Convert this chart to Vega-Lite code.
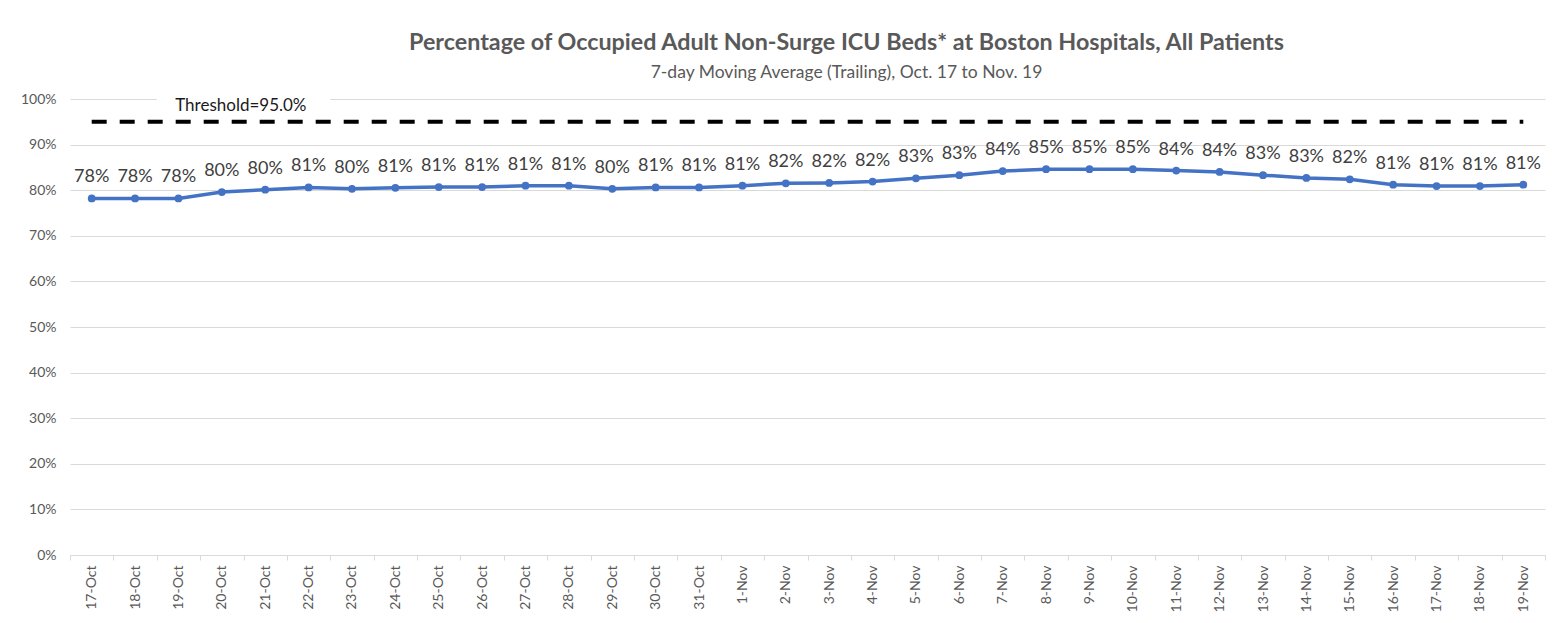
{
  "$schema": "https://vega.github.io/schema/vega-lite/v6.json",
  "width": 1475,
  "height": 456,
  "autosize": {"type": "none"},
  "padding": {"left": 70, "top": 99, "right": 23, "bottom": 68},
  "background": "white",
  "config": {"view": {"stroke": null}},
  "title": {
    "text": "Percentage of Occupied Adult Non-Surge ICU Beds* at Boston Hospitals, All Patients",
    "subtitle": "7-day Moving Average (Trailing), Oct. 17 to Nov. 19",
    "font": "Lato",
    "fontSize": 23.3,
    "fontWeight": "bold",
    "color": "#595959",
    "subtitleFont": "Lato",
    "subtitleFontSize": 17.5,
    "subtitleColor": "#595959",
    "subtitlePadding": 8,
    "anchor": "middle",
    "frame": "group",
    "dx": 39,
    "offset": 10
  },
  "data": {
    "values": [
      {"date": "17-Oct", "pct": 0.782, "threshold": 0.95},
      {"date": "18-Oct", "pct": 0.782, "threshold": 0.95},
      {"date": "19-Oct", "pct": 0.782, "threshold": 0.95},
      {"date": "20-Oct", "pct": 0.796, "threshold": 0.95},
      {"date": "21-Oct", "pct": 0.801, "threshold": 0.95},
      {"date": "22-Oct", "pct": 0.806, "threshold": 0.95},
      {"date": "23-Oct", "pct": 0.803, "threshold": 0.95},
      {"date": "24-Oct", "pct": 0.8051, "threshold": 0.95},
      {"date": "25-Oct", "pct": 0.807, "threshold": 0.95},
      {"date": "26-Oct", "pct": 0.807, "threshold": 0.95},
      {"date": "27-Oct", "pct": 0.81, "threshold": 0.95},
      {"date": "28-Oct", "pct": 0.81, "threshold": 0.95},
      {"date": "29-Oct", "pct": 0.803, "threshold": 0.95},
      {"date": "30-Oct", "pct": 0.806, "threshold": 0.95},
      {"date": "31-Oct", "pct": 0.806, "threshold": 0.95},
      {"date": "1-Nov", "pct": 0.81, "threshold": 0.95},
      {"date": "2-Nov", "pct": 0.815, "threshold": 0.95},
      {"date": "3-Nov", "pct": 0.816, "threshold": 0.95},
      {"date": "4-Nov", "pct": 0.819, "threshold": 0.95},
      {"date": "5-Nov", "pct": 0.826, "threshold": 0.95},
      {"date": "6-Nov", "pct": 0.833, "threshold": 0.95},
      {"date": "7-Nov", "pct": 0.842, "threshold": 0.95},
      {"date": "8-Nov", "pct": 0.846, "threshold": 0.95},
      {"date": "9-Nov", "pct": 0.846, "threshold": 0.95},
      {"date": "10-Nov", "pct": 0.846, "threshold": 0.95},
      {"date": "11-Nov", "pct": 0.843, "threshold": 0.95},
      {"date": "12-Nov", "pct": 0.84, "threshold": 0.95},
      {"date": "13-Nov", "pct": 0.833, "threshold": 0.95},
      {"date": "14-Nov", "pct": 0.827, "threshold": 0.95},
      {"date": "15-Nov", "pct": 0.824, "threshold": 0.95},
      {"date": "16-Nov", "pct": 0.812, "threshold": 0.95},
      {"date": "17-Nov", "pct": 0.809, "threshold": 0.95},
      {"date": "18-Nov", "pct": 0.809, "threshold": 0.95},
      {"date": "19-Nov", "pct": 0.812, "threshold": 0.95}
    ]
  },
  "encoding": {
    "x": {
      "field": "date",
      "type": "ordinal",
      "sort": null,
      "title": null,
      "scale": {
        "domain": ["17-Oct", "18-Oct", "19-Oct", "20-Oct", "21-Oct", "22-Oct", "23-Oct", "24-Oct", "25-Oct", "26-Oct", "27-Oct", "28-Oct", "29-Oct", "30-Oct", "31-Oct", "1-Nov", "2-Nov", "3-Nov", "4-Nov", "5-Nov", "6-Nov", "7-Nov", "8-Nov", "9-Nov", "10-Nov", "11-Nov", "12-Nov", "13-Nov", "14-Nov", "15-Nov", "16-Nov", "17-Nov", "18-Nov", "19-Nov"]
      },
      "axis": {
        "labelAngle": -90,
        "labelFont": "Lato",
        "labelFontSize": 14,
        "labelColor": "#595959",
        "labelPadding": 5,
        "tickBand": "extent",
        "tickSize": 5,
        "tickColor": "#d9d9d9",
        "domainColor": "#d9d9d9",
        "domainWidth": 1,
        "grid": false
      }
    }
  },
  "layer": [
    {
      "data": {"values": [{}]},
      "mark": {"type": "rect", "color": "white"},
      "encoding": {
        "x": {"datum": "19-Oct", "type": "ordinal", "bandPosition": 0},
        "x2": {"datum": "23-Oct", "bandPosition": 0},
        "y": {"datum": 0.97},
        "y2": {"datum": 1.005}
      }
    },
    {
      "mark": {"type": "line", "color": "#000000", "strokeWidth": 4, "strokeDash": [15, 13]},
      "encoding": {
        "y": {
          "field": "threshold",
          "type": "quantitative",
          "scale": {"domain": [0, 1]},
          "title": null,
          "axis": {
            "values": [0, 0.1, 0.2, 0.3, 0.4, 0.5, 0.6, 0.7, 0.8, 0.9, 1.0],
            "format": ".0%",
            "labelFont": "Lato",
            "labelFontSize": 14,
            "labelColor": "#595959",
            "labelPadding": 14,
            "ticks": false,
            "domain": false,
            "grid": true,
            "gridColor": "#d9d9d9",
            "gridWidth": 1
          }
        }
      }
    },
    {
      "mark": {"type": "line", "color": "#4472C4", "strokeWidth": 3.5},
      "encoding": {"y": {"field": "pct", "type": "quantitative"}}
    },
    {
      "mark": {"type": "point", "filled": true, "color": "#4472C4", "size": 60, "opacity": 1},
      "encoding": {"y": {"field": "pct", "type": "quantitative"}}
    },
    {
      "mark": {"type": "text", "font": "Lato", "fontSize": 18, "color": "#404040", "dy": -21},
      "encoding": {
        "y": {"field": "pct", "type": "quantitative"},
        "text": {"field": "pct", "type": "quantitative", "format": ".0%"}
      }
    },
    {
      "data": {"values": [{}]},
      "mark": {"type": "text", "font": "Lato", "fontSize": 17, "color": "#1a1a1a", "dx": 19},
      "encoding": {
        "x": {"datum": "20-Oct", "type": "ordinal"},
        "y": {"datum": 0.985},
        "text": {"value": "Threshold=95.0%"}
      }
    }
  ]
}
